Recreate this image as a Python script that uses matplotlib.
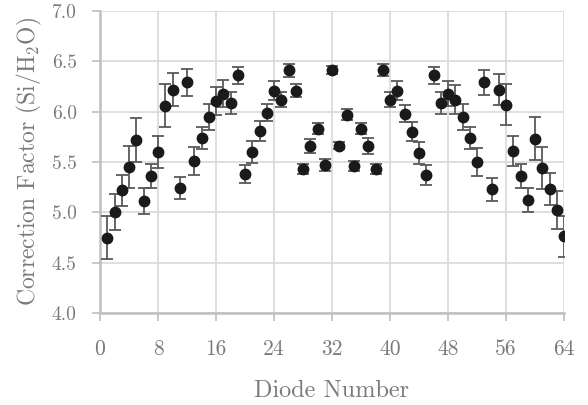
import matplotlib
matplotlib.use("Agg")
import matplotlib.pyplot as plt

diodes = list(range(1, 65))
factors = [4.75, 5.00, 5.22, 5.45, 5.72, 5.11, 5.36, 5.60, 6.06, 6.22,
           5.24, 6.29, 5.51, 5.74, 5.95, 6.11, 6.18, 6.09, 6.36, 5.38,
           5.60, 5.81, 5.99, 6.21, 6.12, 6.41, 6.21, 5.43, 5.66, 5.83,
           5.47, 6.41, 5.66, 5.97, 5.46, 5.83, 5.66, 5.43, 6.41, 6.12,
           6.21, 5.98, 5.80, 5.59, 5.37, 6.36, 6.09, 6.18, 6.12, 5.95,
           5.74, 5.50, 6.29, 5.23, 6.22, 6.07, 5.61, 5.36, 5.12, 5.73,
           5.44, 5.23, 5.02, 4.76]
errors = [0.21, 0.18, 0.155, 0.21, 0.22, 0.13, 0.12, 0.155, 0.21, 0.16,
          0.11, 0.13, 0.14, 0.11, 0.13, 0.14, 0.13, 0.11, 0.085, 0.09,
          0.11, 0.10, 0.086, 0.09, 0.075, 0.063, 0.06, 0.05, 0.07, 0.055,
          0.055, 0.04, 0.035, 0.053, 0.05, 0.056, 0.078, 0.05, 0.06, 0.076,
          0.09, 0.083, 0.096, 0.11, 0.10, 0.083, 0.11, 0.125, 0.14, 0.13,
          0.11, 0.14, 0.125, 0.115, 0.155, 0.205, 0.15, 0.12, 0.12, 0.215,
          0.21, 0.16, 0.19, 0.20]
x_ticks = [0, 8, 16, 24, 32, 40, 48, 56, 64]
y_ticks = [4.0, 4.5, 5.0, 5.5, 6.0, 6.5, 7.0]

plt.rcParams['font.family'] = ['cmr10', 'DejaVu Serif']
plt.rcParams['mathtext.fontset'] = 'cm'
plt.rcParams['axes.formatter.use_mathtext'] = True

text_color = '#7a7a7a'
fig = plt.figure(figsize=(5.88, 4.05), dpi=100)
ax = fig.add_axes([100/588, 1-313/405, 464/588, 302/405])

ax.errorbar(diodes, factors, yerr=errors, fmt='o', color='#1a1a1a',
            markersize=7.5, ecolor='#595959', elinewidth=1.3, capsize=4,
            capthick=1.3, zorder=3)

ax.set_xlim(0, 64)
ax.set_ylim(4.0, 7.0)
ax.set_xticks(x_ticks)
ax.set_yticks(y_ticks)
ax.set_xticklabels([str(t) for t in x_ticks])
ax.set_yticklabels([f"{t:.1f}" for t in y_ticks])
ax.grid(True, color='#d9d9d9', linewidth=1.2, zorder=0)
ax.set_axisbelow(True)
for s in ['top', 'right']:
    ax.spines[s].set_visible(False)
for s in ['left', 'bottom']:
    ax.spines[s].set_color('#bfbfbf')
    ax.spines[s].set_linewidth(1.8)
ax.tick_params(axis='both', direction='out', length=5.8, width=1.2,
               color='#bfbfbf', labelcolor=text_color)
ax.tick_params(axis='y', labelsize=14, pad=11)
ax.tick_params(axis='x', labelsize=15.5, pad=13)
ax.set_xlabel('Diode Number', color=text_color, fontsize=17.5, va='baseline')
ax.xaxis.set_label_coords(0.5, -(397-313)/302)
ax.set_ylabel('Correction Factor (Si/H$_2$O)', color=text_color, fontsize=17,
              va='baseline')
ax.yaxis.set_label_coords(-(100-35)/464, 0.5)

fig.savefig('out.png', dpi=100)
